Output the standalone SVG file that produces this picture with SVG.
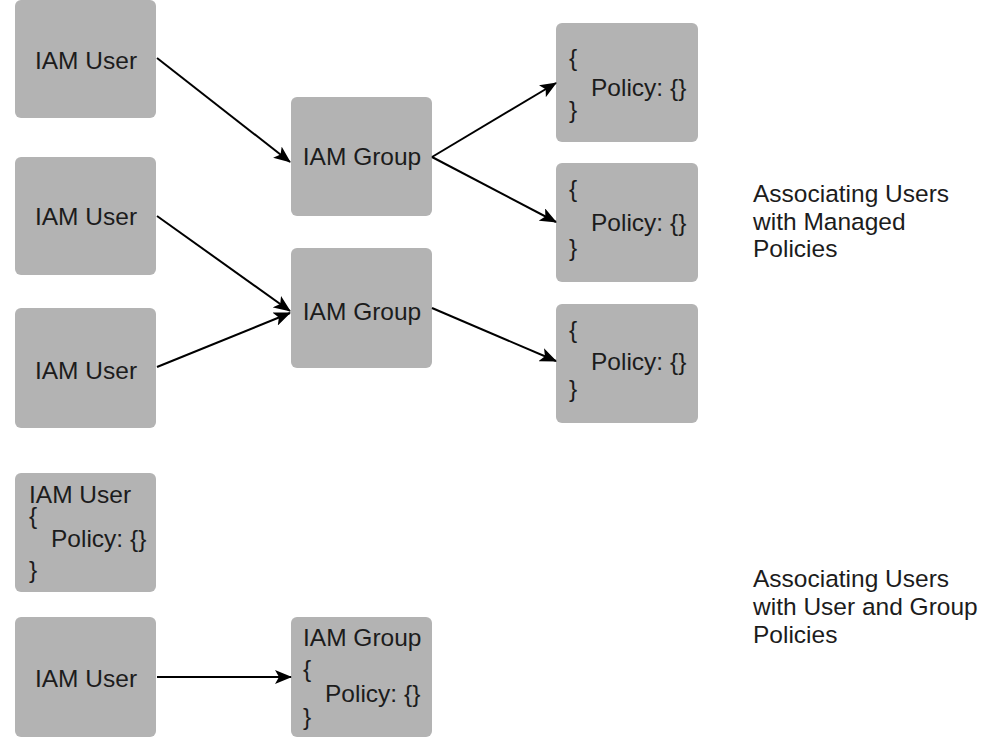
<svg xmlns="http://www.w3.org/2000/svg" width="1002" height="743" viewBox="0 0 1002 743">
  <style>
    .box { fill: #b3b3b3; }
    .t { font-family: "Liberation Sans", Arial, sans-serif; font-size: 24.5px; fill: #1c1c1c; }
    .c { text-anchor: middle; }
    .edge { stroke: #000; stroke-width: 2; fill: none; marker-end: url(#arrow); }
  </style>
  <defs>
    <marker id="arrow" markerUnits="userSpaceOnUse" markerWidth="18" markerHeight="14" refX="16" refY="7" orient="auto">
      <path d="M0,0 L17,7 L0,14 L4,7 Z" fill="#000"/>
    </marker>
  </defs>
  <rect width="1002" height="743" fill="#fff"/>

  <g id="user1"><rect class="box" x="15" y="0" width="141" height="118" rx="6"/><text class="t c" x="86" y="69">IAM User</text></g>
  <g id="user2"><rect class="box" x="15" y="157" width="141" height="118" rx="6"/><text class="t c" x="86" y="225">IAM User</text></g>
  <g id="user3"><rect class="box" x="15" y="308" width="141" height="120" rx="6"/><text class="t c" x="86" y="379">IAM User</text></g>

  <g id="group1"><rect class="box" x="291" y="97" width="141" height="119" rx="6"/><text class="t c" x="362" y="165">IAM Group</text></g>
  <g id="group2"><rect class="box" x="291" y="248" width="141" height="120" rx="6"/><text class="t c" x="362" y="320">IAM Group</text></g>

  <g id="policy1"><rect class="box" x="556" y="23" width="142" height="119" rx="6"/>
    <text class="t"><tspan x="569" y="66">{</tspan><tspan x="591" y="96">Policy: {}</tspan><tspan x="569" y="118">}</tspan></text></g>
  <g id="policy2"><rect class="box" x="556" y="163" width="142" height="119" rx="6"/>
    <text class="t"><tspan x="569" y="197">{</tspan><tspan x="591" y="231">Policy: {}</tspan><tspan x="569" y="256">}</tspan></text></g>
  <g id="policy3"><rect class="box" x="556" y="304" width="142" height="119" rx="6"/>
    <text class="t"><tspan x="569" y="338">{</tspan><tspan x="591" y="370">Policy: {}</tspan><tspan x="569" y="397">}</tspan></text></g>

  <g id="label1">
    <text class="t"><tspan x="753" y="202">Associating Users</tspan><tspan x="753" y="230">with Managed</tspan><tspan x="753" y="257">Policies</tspan></text>
  </g>

  <g id="userPolicy"><rect class="box" x="15" y="473" width="141" height="119" rx="6"/>
    <text class="t"><tspan x="29" y="503">IAM User</tspan><tspan x="29" y="524">{</tspan><tspan x="51" y="547">Policy: {}</tspan><tspan x="29" y="578">}</tspan></text></g>

  <g id="user4"><rect class="box" x="15" y="617" width="141" height="120" rx="6"/><text class="t c" x="86" y="687">IAM User</text></g>

  <g id="groupPolicy"><rect class="box" x="291" y="617" width="141" height="120" rx="6"/>
    <text class="t"><tspan x="303" y="646">IAM Group</tspan><tspan x="303" y="677">{</tspan><tspan x="325" y="702">Policy: {}</tspan><tspan x="303" y="725">}</tspan></text></g>

  <g id="label2">
    <text class="t"><tspan x="753" y="587">Associating Users</tspan><tspan x="753" y="615">with User and Group</tspan><tspan x="753" y="643">Policies</tspan></text>
  </g>

  <g id="connectors">
    <line class="edge" x1="157" y1="58" x2="290" y2="162"/>
    <line class="edge" x1="157" y1="216" x2="290" y2="311"/>
    <line class="edge" x1="157" y1="367" x2="290" y2="313"/>
    <line class="edge" x1="432" y1="157" x2="556" y2="83"/>
    <line class="edge" x1="432" y1="157" x2="556" y2="222"/>
    <line class="edge" x1="432" y1="308" x2="556" y2="361"/>
    <line class="edge" x1="157" y1="677" x2="291" y2="677"/>
  </g>
</svg>
